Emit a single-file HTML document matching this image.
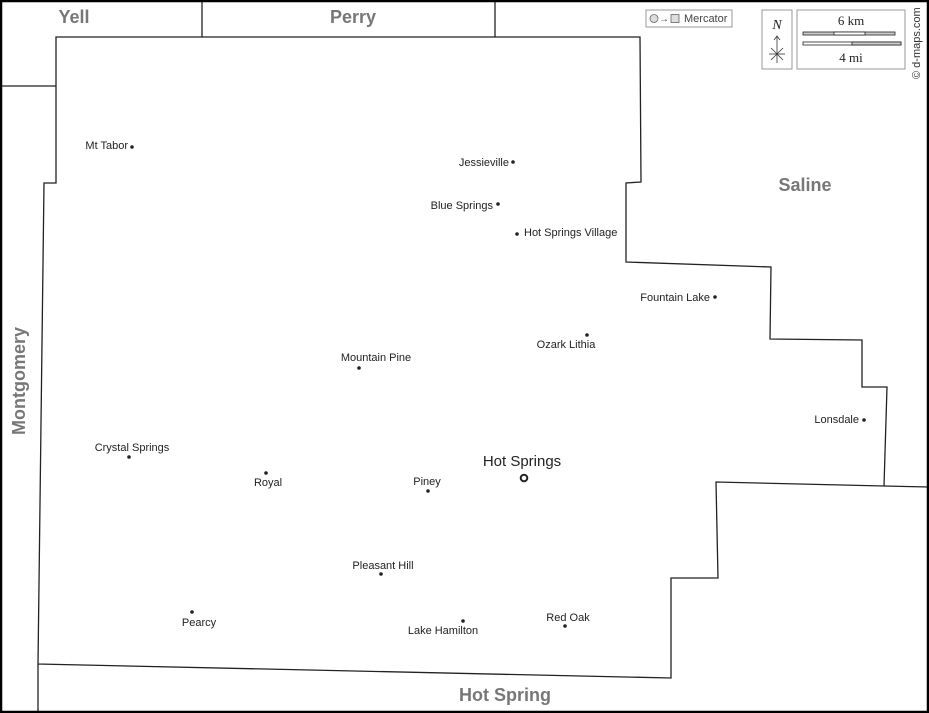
<!DOCTYPE html>
<html><head><meta charset="utf-8"><style>
html,body{margin:0;padding:0;background:#fff;}
svg{display:block;}
text{font-family:"Liberation Sans",Arial,sans-serif;}
.t{font-size:11px;fill:#222;}
.c{font-size:18px;font-weight:bold;fill:#777;}
</style></head><body>
<svg width="929" height="713" viewBox="0 0 929 713" xmlns="http://www.w3.org/2000/svg">
<rect x="0" y="0" width="929" height="713" fill="#fff"/>
<g fill="none" stroke="#222" stroke-width="1.3">
<polygon points="56,37 640,37 641,182 626,183 626,262 771,267 770,339 862,340 862,387 887,387 884,486 716,482 718,578 671,578 671,678 38,664 44,183 56,183"/>
<line x1="202" y1="0" x2="202" y2="37"/>
<line x1="495" y1="0" x2="495" y2="37"/>
<line x1="0" y1="86" x2="56" y2="86"/>
<line x1="884" y1="486" x2="929" y2="487"/>
<line x1="38" y1="664" x2="38" y2="713"/>
</g>
<rect x="1" y="1" width="927" height="711" fill="none" stroke="#000" stroke-width="2.5"/>
<text class="c" x="74" y="23" text-anchor="middle">Yell</text>
<text class="c" x="353" y="23" text-anchor="middle">Perry</text>
<text class="c" x="805" y="191" text-anchor="middle">Saline</text>
<text class="c" x="505" y="701" text-anchor="middle">Hot Spring</text>
<text class="c" transform="translate(25,381) rotate(-90)" text-anchor="middle">Montgomery</text>
<rect x="646" y="10" width="86" height="17" fill="#fff" stroke="#999"/>
<circle cx="654" cy="18.5" r="4" fill="#ddd" stroke="#666" stroke-width="0.8"/>
<text x="659" y="22" style="font-size:10px" fill="#444">→</text>
<rect x="671" y="14.5" width="8" height="8" fill="#ddd" stroke="#666" stroke-width="0.8"/>
<text x="684" y="22" style="font-size:11px" fill="#444">Mercator</text>
<rect x="762" y="10" width="30" height="59" fill="#fff" stroke="#999"/>
<text x="777" y="29" text-anchor="middle" style="font-family:'Liberation Serif',serif;font-style:italic;font-size:14px" fill="#222">N</text>
<g stroke="#333" stroke-width="0.8">
<line x1="777" y1="36" x2="777" y2="63"/>
<line x1="769" y1="54" x2="785" y2="54"/>
<line x1="771" y1="48" x2="783" y2="60"/>
<line x1="783" y1="48" x2="771" y2="60"/>
<polyline points="774,40 777,36 780,40" fill="none"/>
</g>
<rect x="797" y="10" width="108" height="59" fill="#fff" stroke="#999"/>
<text x="851" y="25" text-anchor="middle" style="font-family:'Liberation Serif',serif;font-size:13px" fill="#222">6 km</text>
<g stroke="#222" stroke-width="0.8">
<rect x="803" y="32" width="92" height="3" fill="#ccc"/>
<rect x="834" y="32" width="31" height="3" fill="#fff"/>
<rect x="803" y="42" width="98" height="3" fill="#fff"/>
<rect x="852" y="42" width="49" height="3" fill="#ccc"/>
</g>
<text x="851" y="62" text-anchor="middle" style="font-family:'Liberation Serif',serif;font-size:13px" fill="#222">4 mi</text>
<text transform="translate(920,79) rotate(-90)" style="font-size:11px" fill="#333">© d-maps.com</text>
<g fill="#222">
<circle cx="132" cy="147" r="1.8"/>
<circle cx="513" cy="162" r="1.8"/>
<circle cx="498" cy="204" r="1.8"/>
<circle cx="517" cy="234" r="1.8"/>
<circle cx="715" cy="297" r="1.8"/>
<circle cx="587" cy="335" r="1.8"/>
<circle cx="359" cy="368" r="1.8"/>
<circle cx="864" cy="420" r="1.8"/>
<circle cx="129" cy="457" r="1.8"/>
<circle cx="266" cy="473" r="1.8"/>
<circle cx="428" cy="491" r="1.8"/>
<circle cx="381" cy="574" r="1.8"/>
<circle cx="192" cy="612" r="1.8"/>
<circle cx="463" cy="621" r="1.8"/>
<circle cx="565" cy="626" r="1.8"/>
</g>
<circle cx="524" cy="478" r="3.3" fill="none" stroke="#222" stroke-width="2"/>
<text class="t" x="128" y="149" text-anchor="end">Mt Tabor</text>
<text class="t" x="509" y="166" text-anchor="end">Jessieville</text>
<text class="t" x="493" y="209" text-anchor="end">Blue Springs</text>
<text class="t" x="524" y="236">Hot Springs Village</text>
<text class="t" x="710" y="301" text-anchor="end">Fountain Lake</text>
<text class="t" x="566" y="348" text-anchor="middle">Ozark Lithia</text>
<text class="t" x="376" y="361" text-anchor="middle">Mountain Pine</text>
<text class="t" x="859" y="423" text-anchor="end">Lonsdale</text>
<text class="t" x="132" y="451" text-anchor="middle">Crystal Springs</text>
<text class="t" x="268" y="486" text-anchor="middle">Royal</text>
<text class="t" x="427" y="485" text-anchor="middle">Piney</text>
<text x="522" y="466" text-anchor="middle" style="font-size:15px" fill="#222">Hot Springs</text>
<text class="t" x="383" y="569" text-anchor="middle">Pleasant Hill</text>
<text class="t" x="199" y="626" text-anchor="middle">Pearcy</text>
<text class="t" x="443" y="634" text-anchor="middle">Lake Hamilton</text>
<text class="t" x="568" y="621" text-anchor="middle">Red Oak</text>
</svg>
</body></html>
